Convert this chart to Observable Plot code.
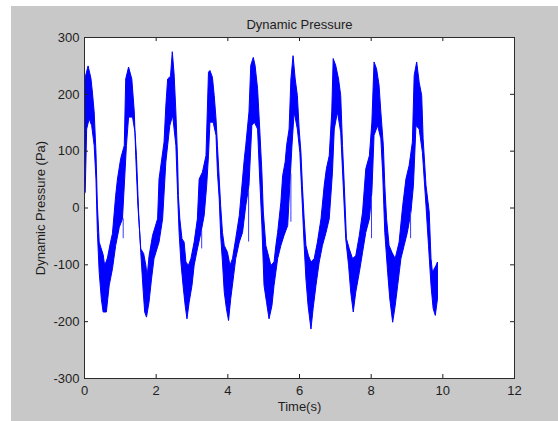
<!DOCTYPE html>
<html><head><meta charset="utf-8">
<script src="https://cdn.jsdelivr.net/npm/d3@7"></script>
<script src="https://cdn.jsdelivr.net/npm/@observablehq/plot@0.6"></script>
<style>
html,body{margin:0;padding:0;background:#ffffff;}
#fig{position:absolute;left:11px;top:6px;width:547px;height:415px;background:#c8c8c8;}
#fig svg{background:transparent;display:block;}
</style></head><body><div id="fig"></div><script>
const titleText = "Dynamic Pressure";
const xLabel = "Time(s)";
const yLabel = "Dynamic Pressure (Pa)";
const xTicks = [0, 2, 4, 6, 8, 10, 12];
const yTicks = [-300, -200, -100, 0, 100, 200, 300];

// upper envelope of the noisy signal (time s, pressure Pa)
const upperT = [0,0.1,0.18,0.22,0.27,0.32,0.36,0.41,0.46,0.52,0.56,0.60,0.64,0.71,0.78,0.87,0.92,1.01,1.11,1.15,1.23,1.32,1.39,1.43,1.49,1.57,1.65,1.71,1.75,1.80,1.90,2.04,2.08,2.22,2.27,2.32,2.40,2.45,2.50,2.55,2.60,2.62,2.66,2.72,2.78,2.83,2.90,2.97,3.06,3.15,3.20,3.29,3.39,3.46,3.50,3.57,3.62,3.67,3.71,3.76,3.80,3.85,3.90,3.99,4.06,4.13,4.22,4.32,4.41,4.46,4.50,4.59,4.64,4.71,4.76,4.83,4.89,4.95,4.99,5.03,5.06,5.11,5.20,5.29,5.34,5.39,5.48,5.53,5.60,5.64,5.71,5.76,5.82,5.88,5.94,5.99,6.04,6.08,6.13,6.18,6.25,6.32,6.41,6.50,6.60,6.69,6.75,6.83,6.90,6.94,7.01,7.09,7.15,7.20,7.25,7.31,7.39,7.48,7.57,7.67,7.76,7.85,7.95,8.02,8.08,8.15,8.22,8.27,8.34,8.38,8.43,8.50,8.58,8.67,8.78,8.88,8.97,9.06,9.15,9.20,9.27,9.34,9.41,9.45,9.53,9.62,9.67,9.71,9.81,9.85];
const upperV = [225,250,228,204,169,98,4,-60,-70,-82,-100,-95,-88,-65,-45,22,51,87,110,227,248,227,169,92,4,-72,-80,-100,-120,-85,-48,-19,51,116,180,227,232,275,236,169,81,22,-19,-54,-60,-95,-101,-89,-60,-19,51,63,92,239,242,230,198,157,110,51,4,-43,-66,-78,-101,-89,-54,-13,51,87,110,169,251,265,251,210,139,63,-7,-40,-66,-78,-101,-95,-66,-43,10,57,81,110,139,227,268,227,198,139,98,40,-19,-66,-84,-95,-89,-60,-19,40,69,92,169,263,251,227,198,110,40,-54,-72,-89,-84,-48,-7,69,92,151,257,245,216,169,110,40,-19,-66,-78,-89,-60,4,51,75,116,233,257,221,198,122,40,-7,-89,-113,-101,-95];

// lower envelope of the noisy signal (time s, pressure Pa)
const lowerT = [0,0.02,0.06,0.13,0.2,0.27,0.32,0.36,0.41,0.47,0.52,0.61,0.69,0.78,0.87,0.97,1.06,1.12,1.17,1.23,1.34,1.41,1.45,1.51,1.57,1.64,1.68,1.73,1.80,1.87,1.94,2.08,2.18,2.27,2.38,2.46,2.55,2.60,2.64,2.69,2.75,2.81,2.86,2.92,3.0,3.06,3.15,3.25,3.34,3.41,3.46,3.50,3.59,3.67,3.71,3.76,3.80,3.85,3.90,3.96,4.02,4.08,4.15,4.22,4.32,4.41,4.50,4.59,4.67,4.74,4.83,4.89,4.95,5.01,5.08,5.15,5.23,5.29,5.39,5.48,5.57,5.67,5.73,5.79,5.85,5.94,6.01,6.08,6.13,6.18,6.24,6.32,6.38,6.46,6.55,6.64,6.74,6.83,6.92,6.97,7.06,7.15,7.22,7.29,7.37,7.43,7.50,7.57,7.67,7.76,7.85,7.95,8.02,8.08,8.18,8.27,8.32,8.38,8.46,8.52,8.60,8.67,8.74,8.83,8.92,9.01,9.11,9.18,9.25,9.34,9.43,9.53,9.60,9.67,9.73,9.79,9.85];
const lowerV = [25,28,139,157,145,110,51,-43,-113,-160,-183,-183,-136,-107,-66,-34,-19,51,110,160,160,133,92,-7,-78,-148,-183,-192,-166,-125,-89,-60,-19,81,145,163,110,22,-43,-95,-136,-172,-195,-166,-136,-101,-72,-43,-13,40,92,151,151,128,63,16,-48,-95,-148,-177,-198,-160,-125,-89,-60,-43,4,40,145,151,139,51,-30,-136,-166,-195,-172,-136,-89,-66,-48,-31,40,110,169,139,98,4,-66,-125,-172,-213,-177,-136,-95,-66,-43,-19,63,139,169,133,40,-54,-101,-148,-183,-148,-113,-78,-43,-19,28,128,145,122,63,-43,-113,-160,-201,-172,-136,-89,-66,-43,-7,40,145,139,98,4,-66,-136,-177,-189,-160];

// isolated noise spikes sticking out of the band (time s, from Pa, to Pa)
const spikeT  = [1.08, 3.27, 4.58, 5.76, 8.01, 9.10];
const spikeY1 = [-19, -40, 30, 60, 20, -7];
const spikeY2 = [-54, -72, -60, -25, -54, -54];

const band = upperT.map((t, i) => ({t, v: upperV[i]}))
  .concat(lowerT.map((t, i) => ({t, v: lowerV[i]})).reverse());
const spikes = spikeT.map((t, i) => ({t, y1: spikeY1[i], y2: spikeY2[i]}));

const W = 547, H = 415, mL = 73, mR = 44, mT = 31, mB = 43;
const pw = W - mL - mR, ph = H - mT - mB;
const font = "Liberation Sans, Arial, Helvetica, sans-serif";
const ink = "#1e1e1e";

const chart = Plot.plot({
  width: W, height: H,
  marginLeft: mL, marginRight: mR, marginTop: mT, marginBottom: mB,
  style: {background: "transparent", fontFamily: font, fontSize: "13px", color: ink, overflow: "visible"},
  x: {domain: [0, 12], axis: null},
  y: {domain: [-300, 300], axis: null},
  marks: [
    Plot.frame({fill: "white", stroke: "none"}),
    Plot.line(band, {x: "t", y: "v", fill: "#0000ff", stroke: "#0000ff", strokeWidth: 1, curve: "linear"}),
    Plot.ruleX(spikes, {x: "t", y1: "y1", y2: "y2", stroke: "#3a3aff", strokeWidth: 1}),
    Plot.tickX(xTicks, {x: d => d, insetTop: ph - 4, stroke: ink}),
    Plot.tickX(xTicks, {x: d => d, insetBottom: ph - 4, stroke: ink}),
    Plot.tickY(yTicks, {y: d => d, insetRight: pw - 4, stroke: ink}),
    Plot.tickY(yTicks, {y: d => d, insetLeft: pw - 4, stroke: ink}),
    Plot.frame({stroke: "#2b2b2b", strokeWidth: 1}),
    Plot.axisX(xTicks, {anchor: "bottom", tickSize: 0, tickPadding: 7, fontSize: 13, fill: ink, label: null, tickFormat: d => String(d)}),
    Plot.axisY(yTicks, {anchor: "left", tickSize: 0, tickPadding: 5, fontSize: 13, fill: ink, label: null, tickFormat: d => String(d)}),
    Plot.text([titleText], {frameAnchor: "top", lineAnchor: "middle", textAnchor: "middle", dy: -13, fontSize: 13, fill: ink}),
    Plot.text([xLabel], {frameAnchor: "bottom", lineAnchor: "middle", textAnchor: "middle", dy: 28, fontSize: 13, fill: ink}),
    Plot.text([yLabel], {frameAnchor: "left", lineAnchor: "middle", textAnchor: "middle", dx: -44, rotate: -90, fontSize: 13, fill: ink})
  ]
});
document.getElementById("fig").appendChild(chart);
</script></body></html>
